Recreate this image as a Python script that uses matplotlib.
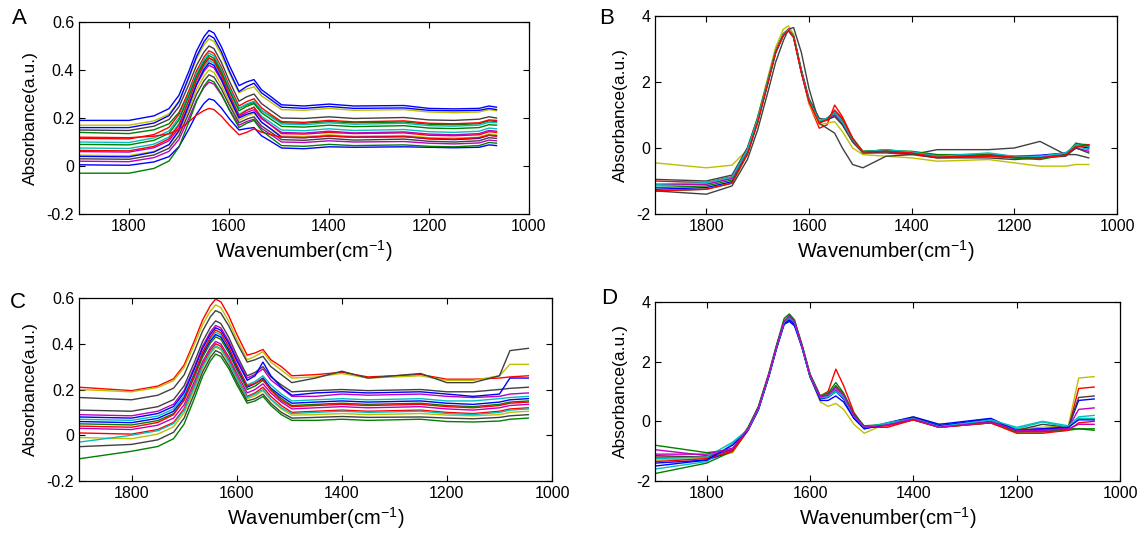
import matplotlib
matplotlib.use("Agg")
import matplotlib.pyplot as plt

plt.rcParams["font.family"] = ["Liberation Sans", "DejaVu Sans"]
plt.rcParams["mathtext.fontset"] = "custom"
plt.rcParams["mathtext.rm"] = "Liberation Sans"

# MATLAB (pre-2014) line colour order
b, g, r, c, m, y, k = ("#0000ff", "#008000", "#ff0000", "#00bfbf",
                       "#bf00bf", "#bfbf00", "#404040")

# ---- panel A ----
wn_a = [1900, 1800, 1750, 1720, 1700, 1680, 1665, 1650, 1640, 1630, 1615, 1600, 1580, 1565,
        1550, 1535, 1515, 1495, 1450, 1400, 1350, 1250, 1200, 1150, 1100, 1080, 1065]
abs_a = [
    [.19, .19, .209, .239, .295, .396, .479, .539, .565, .554, .496, .422, .335, .35, .36, .318, .287, .255, .25, .258, .25, .252, .24, .238, .24, .25, .245],
    [.17, .17, .188, .217, .271, .368, .447, .505, .53, .519, .463, .391, .305, .32, .33, .292, .264, .235, .232, .24, .232, .235, .225, .222, .225, .235, .23],
    [.16, .16, .179, .21, .268, .372, .456, .518, .545, .533, .475, .399, .31, .331, .345, .305, .275, .245, .24, .248, .24, .242, .232, .23, .232, .24, .235],
    [.15, .148, .166, .194, .247, .342, .419, .475, .50, .489, .431, .357, .27, .288, .30, .26, .23, .20, .198, .205, .198, .202, .192, .19, .195, .205, .20],
    [.14, .135, .151, .176, .223, .308, .378, .428, .45, .44, .387, .32, .24, .255, .265, .231, .206, .18, .178, .185, .18, .183, .174, .172, .176, .188, .185],
    [.115, .113, .131, .161, .216, .315, .396, .454, .48, .469, .411, .337, .25, .268, .28, .242, .213, .185, .182, .19, .184, .188, .178, .176, .18, .192, .19],
    [.10, .098, .117, .146, .202, .303, .384, .444, .47, .459, .401, .327, .24, .258, .27, .232, .203, .175, .172, .18, .174, .178, .168, .166, .17, .182, .18],
    [.09, .088, .107, .136, .192, .293, .374, .434, .46, .449, .391, .317, .23, .248, .26, .222, .193, .165, .162, .17, .164, .168, .158, .156, .16, .172, .17],
    [.075, .073, .091, .121, .176, .275, .356, .414, .44, .429, .373, .301, .215, .233, .245, .207, .179, .15, .147, .155, .148, .152, .143, .14, .145, .158, .155],
    [.065, .063, .082, .113, .171, .276, .361, .423, .45, .438, .378, .301, .21, .231, .245, .201, .168, .135, .133, .14, .135, .138, .128, .126, .13, .143, .14],
    [.06, .058, .076, .105, .159, .257, .337, .395, .42, .409, .356, .287, .205, .223, .235, .197, .169, .14, .137, .145, .138, .142, .133, .13, .135, .148, .145],
    [.045, .043, .061, .089, .143, .239, .318, .375, .40, .39, .337, .27, .19, .208, .22, .182, .154, .125, .122, .13, .124, .127, .118, .116, .12, .133, .13],
    [.04, .038, .058, .089, .148, .254, .340, .403, .43, .419, .361, .287, .2, .215, .225, .183, .152, .12, .118, .125, .12, .123, .113, .11, .115, .128, .125],
    [.03, .028, .046, .074, .127, .222, .299, .355, .38, .37, .32, .256, .18, .195, .205, .167, .139, .11, .107, .115, .108, .112, .103, .10, .105, .118, .115],
    [.02, .018, .035, .061, .111, .201, .274, .327, .35, .341, .296, .238, .17, .185, .195, .157, .129, .10, .098, .105, .10, .102, .095, .092, .096, .108, .105],
    [.005, .003, .017, .039, .081, .155, .216, .261, .28, .274, .241, .199, .15, .156, .16, .126, .101, .075, .072, .08, .078, .08, .078, .076, .078, .088, .085],
    [.12, .118, .124, .134, .152, .185, .212, .231, .24, .235, .207, .172, .13, .14, .155, .141, .13, .12, .118, .125, .12, .122, .115, .112, .118, .128, .125],
    [-.03, -.03, -.01, .021, .079, .185, .27, .333, .36, .35, .30, .236, .16, .178, .19, .148, .116, .085, .082, .09, .085, .088, .082, .08, .085, .098, .095],
]
colors_a = [b, y, b, k, g, r, c, g, c, r, m, y, b, k, m, b, r, g]

# ---- panel B ----
wn_b = [1900, 1800, 1750, 1720, 1700, 1680, 1665, 1650, 1640, 1630, 1615, 1600, 1580, 1565,
        1550, 1535, 1515, 1495, 1450, 1400, 1350, 1250, 1200, 1150, 1100, 1080, 1055]
abs_b = [
    [-1.25, -1.2, -1.02, -0.16, 0.8, 1.98, 2.89, 3.41, 3.55, 3.35, 2.3, 1.4, 0.78, 0.85, 1.0, 0.72, 0.2, -0.12, -0.05, -0.15, -0.25, -0.2, -0.25, -0.22, -0.15, 0.05, 0.0],
    [-1.2, -1.15, -0.97, -0.11, 0.85, 2.03, 2.94, 3.46, 3.6, 3.4, 2.35, 1.45, 0.82, 0.9, 1.05, 0.78, 0.25, -0.1, -0.1, -0.12, -0.28, -0.25, -0.3, -0.3, -0.2, 0.12, 0.1],
    [-1.0, -1.05, -0.87, -0.03, 0.9, 2.07, 2.95, 3.46, 3.6, 3.38, 2.3, 1.35, 0.6, 0.7, 1.3, 0.95, 0.3, -0.15, -0.15, -0.2, -0.3, -0.25, -0.28, -0.3, -0.2, 0.0, 0.1],
    [-1.15, -1.1, -0.92, -0.07, 0.87, 2.04, 2.92, 3.44, 3.58, 3.36, 2.32, 1.42, 0.8, 0.88, 1.02, 0.75, 0.22, -0.12, -0.08, -0.15, -0.22, -0.18, -0.3, -0.25, -0.18, 0.05, -0.05],
    [-1.1, -1.1, -0.92, -0.07, 0.86, 2.03, 2.92, 3.43, 3.57, 3.37, 2.33, 1.43, 0.8, 0.87, 1.0, 0.73, 0.2, -0.13, -0.1, -0.13, -0.25, -0.2, -0.27, -0.28, -0.2, 0.0, -0.1],
    [-0.45, -0.6, -0.52, -0.05, 0.95, 2.15, 3.05, 3.6, 3.7, 3.45, 2.35, 1.35, 0.7, 0.75, 0.8, 0.5, 0.0, -0.2, -0.25, -0.3, -0.4, -0.35, -0.45, -0.55, -0.55, -0.5, -0.5],
    [-1.3, -1.4, -1.15, -0.35, 0.55, 1.7, 2.6, 3.25, 3.6, 3.65, 2.9, 1.8, 0.75, 0.6, 0.45, 0.0, -0.5, -0.6, -0.25, -0.2, -0.05, -0.05, 0.0, 0.2, -0.2, -0.2, -0.3],
    [-0.95, -1.0, -0.82, 0.01, 0.92, 2.07, 2.94, 3.44, 3.58, 3.4, 2.38, 1.5, 0.9, 0.85, 0.95, 0.7, 0.18, -0.15, -0.12, -0.18, -0.3, -0.3, -0.35, -0.3, -0.25, 0.0, -0.15],
    [-1.3, -1.25, -1.07, -0.19, 0.77, 1.97, 2.88, 3.41, 3.55, 3.36, 2.32, 1.42, 0.8, 0.9, 1.1, 0.85, 0.3, -0.1, -0.08, -0.1, -0.2, -0.2, -0.3, -0.35, -0.2, 0.15, 0.05],
    [-1.1, -1.05, -0.88, -0.05, 0.88, 2.05, 2.93, 3.45, 3.58, 3.38, 2.34, 1.44, 0.82, 0.9, 1.08, 0.8, 0.25, -0.12, -0.05, -0.12, -0.25, -0.15, -0.25, -0.25, -0.15, 0.1, 0.05],
    [-1.3, -1.25, -1.06, -0.18, 0.78, 1.98, 2.9, 3.42, 3.56, 3.36, 2.3, 1.4, 0.75, 0.85, 1.15, 0.9, 0.28, -0.12, -0.1, -0.15, -0.28, -0.22, -0.28, -0.3, -0.22, 0.05, 0.08],
]
colors_b = [b, g, r, c, m, y, k, k, g, c, r]

# ---- panel C ----
wn_c = [1900, 1800, 1750, 1720, 1700, 1680, 1665, 1650, 1640, 1630, 1615, 1600, 1580, 1565,
        1550, 1535, 1515, 1495, 1450, 1400, 1350, 1250, 1200, 1150, 1100, 1080, 1045]
abs_c = [
    [.21, .195, .215, .247, .307, .415, .503, .567, .595, .583, .522, .443, .35, .36, .375, .33, .3, .26, .265, .275, .255, .265, .245, .245, .25, .255, .26],
    [.2, .19, .209, .239, .296, .399, .483, .543, .57, .558, .498, .421, .33, .345, .365, .32, .285, .25, .255, .27, .25, .26, .24, .24, .26, .31, .31],
    [.165, .155, .175, .206, .264, .37, .455, .518, .545, .534, .478, .406, .32, .33, .345, .3, .265, .23, .25, .28, .25, .27, .23, .23, .26, .37, .38],
    [.11, .105, .125, .156, .216, .322, .409, .472, .5, .488, .428, .351, .26, .275, .3, .255, .22, .19, .195, .2, .195, .2, .19, .19, .2, .205, .21],
    [.09, .085, .105, .136, .196, .302, .389, .452, .48, .469, .411, .337, .25, .266, .29, .242, .206, .17, .17, .18, .175, .18, .17, .165, .17, .18, .185],
    [.08, .075, .095, .126, .186, .292, .379, .442, .47, .459, .401, .327, .24, .26, .32, .26, .21, .175, .185, .19, .185, .19, .18, .17, .18, .25, .25],
    [.07, .065, .084, .115, .173, .277, .361, .423, .45, .439, .381, .307, .22, .235, .26, .22, .18, .15, .155, .16, .155, .16, .15, .15, .16, .165, .17],
    [.06, .055, .074, .105, .163, .267, .351, .413, .44, .429, .371, .297, .21, .226, .25, .206, .17, .14, .145, .15, .145, .15, .14, .135, .145, .155, .16],
    [.05, .045, .064, .095, .153, .257, .341, .403, .43, .419, .361, .287, .2, .215, .24, .2, .16, .13, .135, .14, .135, .14, .13, .125, .135, .145, .15],
    [.04, .035, .056, .09, .154, .269, .362, .43, .46, .448, .387, .308, .215, .227, .245, .197, .152, .125, .13, .135, .13, .135, .125, .12, .13, .14, .145],
    [.03, .025, .044, .075, .133, .237, .321, .383, .41, .399, .343, .271, .185, .2, .225, .185, .145, .115, .12, .125, .12, .125, .115, .11, .12, .13, .135],
    [.01, .005, .025, .056, .116, .222, .309, .372, .4, .389, .331, .257, .17, .185, .21, .17, .13, .1, .105, .11, .105, .11, .1, .095, .105, .115, .12],
    [-.01, -.015, .005, .037, .097, .205, .293, .357, .385, .374, .318, .246, .16, .172, .195, .155, .115, .088, .09, .095, .09, .095, .088, .085, .09, .1, .105],
    [-.03, 0.0, .02, .051, .109, .215, .3, .363, .39, .379, .323, .251, .165, .18, .2, .158, .12, .095, .1, .105, .1, .105, .095, .09, .1, .11, .115],
    [-.05, -.04, -.02, .013, .075, .186, .276, .341, .37, .359, .304, .234, .15, .16, .18, .14, .1, .075, .078, .082, .078, .08, .075, .072, .078, .085, .09],
    [-.103, -.07, -.049, -.015, .049, .164, .257, .325, .355, .344, .291, .222, .14, .15, .17, .13, .09, .065, .065, .07, .065, .07, .06, .058, .062, .07, .075],
]
colors_c = [r, y, k, k, m, b, c, b, g, r, m, r, y, c, k, g]

# ---- panel D ----
wn_d = [1900, 1800, 1750, 1720, 1700, 1680, 1665, 1650, 1640, 1630, 1615, 1600, 1580, 1565,
        1550, 1535, 1515, 1495, 1450, 1400, 1350, 1250, 1200, 1150, 1100, 1080, 1050]
abs_d = [
    [-1.3, -1.25, -1.05, -0.3, 0.4, 1.5, 2.45, 3.3, 3.45, 3.3, 2.45, 1.5, 0.65, 0.5, 0.6, 0.4, -0.1, -0.4, -0.05, 0.15, -0.1, 0.0, -0.25, -0.2, -0.15, 1.45, 1.5],
    [-1.2, -1.2, -0.95, -0.25, 0.45, 1.55, 2.5, 3.35, 3.5, 3.32, 2.5, 1.55, 0.85, 1.0, 1.75, 1.2, 0.3, -0.2, -0.2, 0.05, -0.2, -0.05, -0.35, -0.35, -0.25, 1.1, 1.15],
    [-0.8, -1.05, -0.95, -0.2, 0.5, 1.6, 2.55, 3.45, 3.6, 3.4, 2.55, 1.6, 0.85, 0.95, 1.3, 0.95, 0.25, -0.15, -0.1, 0.1, -0.15, -0.05, -0.35, -0.3, -0.25, -0.25, -0.3],
    [-1.4, -1.3, -1.0, -0.3, 0.4, 1.5, 2.45, 3.25, 3.35, 3.2, 2.45, 1.5, 0.75, 0.8, 1.0, 0.75, 0.1, -0.25, -0.05, 0.15, -0.1, 0.1, -0.3, -0.25, -0.2, 0.7, 0.75],
    [-1.15, -1.2, -0.95, -0.25, 0.45, 1.55, 2.5, 3.35, 3.5, 3.35, 2.5, 1.55, 0.8, 0.85, 1.1, 0.85, 0.2, -0.2, -0.1, 0.1, -0.15, 0.0, -0.3, -0.1, -0.2, 0.8, 0.85],
    [-0.95, -1.15, -0.95, -0.25, 0.43, 1.53, 2.48, 3.33, 3.48, 3.32, 2.48, 1.52, 0.8, 0.85, 1.05, 0.8, 0.18, -0.22, -0.08, 0.08, -0.18, -0.02, -0.32, -0.28, -0.22, 0.4, 0.45],
    [-1.6, -1.35, -0.75, -0.25, 0.4, 1.5, 2.45, 3.3, 3.45, 3.3, 2.45, 1.5, 0.78, 0.82, 1.0, 0.8, 0.15, -0.2, -0.05, 0.1, -0.15, 0.05, -0.25, -0.02, -0.2, 0.1, 0.1],
    [-1.75, -1.4, -1.0, -0.28, 0.42, 1.52, 2.47, 3.35, 3.55, 3.35, 2.5, 1.55, 0.8, 0.9, 1.2, 0.9, 0.2, -0.18, -0.1, 0.05, -0.2, -0.05, -0.35, -0.35, -0.3, -0.25, -0.25],
    [-1.35, -1.25, -1.0, -0.3, 0.4, 1.5, 2.45, 3.33, 3.5, 3.3, 2.48, 1.52, 0.8, 0.88, 1.15, 0.88, 0.2, -0.2, -0.15, 0.05, -0.2, -0.05, -0.4, -0.4, -0.3, -0.05, 0.0],
    [-1.5, -1.3, -0.8, -0.3, 0.38, 1.48, 2.42, 3.27, 3.4, 3.25, 2.45, 1.5, 0.7, 0.7, 0.85, 0.65, 0.1, -0.25, -0.1, 0.12, -0.15, 0.08, -0.3, -0.25, -0.2, 0.05, 0.05],
    [-1.25, -1.2, -0.7, -0.28, 0.42, 1.52, 2.47, 3.32, 3.5, 3.32, 2.48, 1.52, 0.8, 0.85, 1.1, 0.85, 0.18, -0.2, -0.08, 0.1, -0.18, 0.05, -0.2, 0.0, -0.15, 0.15, 0.2],
    [-1.1, -1.1, -0.9, -0.25, 0.45, 1.55, 2.5, 3.35, 3.52, 3.35, 2.5, 1.55, 0.82, 0.88, 1.15, 0.88, 0.2, -0.2, -0.12, 0.08, -0.2, -0.02, -0.3, -0.3, -0.25, -0.1, -0.1],
]
colors_d = [y, r, g, b, k, m, c, g, r, b, c, m]

x_ticks = [1800, 1600, 1400, 1200, 1000]
yticks_small = [-0.2, 0, 0.2, 0.4, 0.6]
yticks_big = [-2, 0, 2, 4]

W, H = 1146, 539
fig = plt.figure(figsize=(W / 100, H / 100), dpi=100)


def px_axes(left, top, right, bottom):
    return fig.add_axes([left / W, 1 - bottom / H, (right - left) / W, (bottom - top) / H])


panels = [
    ("A", (79, 22, 529, 214), (19, 18), wn_a, abs_a, colors_a, yticks_small, ["-0.2", "0", "0.2", "0.4", "0.6"]),
    ("B", (655, 16, 1117, 214), (607, 19), wn_b, abs_b, colors_b, yticks_big, ["-2", "0", "2", "4"]),
    ("C", (79, 298, 552, 481), (18, 302), wn_c, abs_c, colors_c, yticks_small, ["-0.2", "0", "0.2", "0.4", "0.6"]),
    ("D", (655, 302, 1120, 481), (609, 298), wn_d, abs_d, colors_d, yticks_big, ["-2", "0", "2", "4"]),
]

for letter, box, lpos, wn, rows, cols, yt, ytl in panels:
    ax = px_axes(*box)
    for row, col in zip(rows, cols):
        ax.plot(wn, row, color=col, lw=1.0)
    ax.set_xlim(1900, 1000)
    ax.set_ylim(yt[0], yt[-1])
    ax.set_xticks(x_ticks)
    ax.set_yticks(yt)
    ax.set_yticklabels(ytl)
    ax.tick_params(direction="in", top=True, right=True, length=4, width=0.8, labelsize=11.5)
    for sp in ax.spines.values():
        sp.set_linewidth(0.9)
    ax.set_xlabel(r"Wavenumber(cm$^{\mathregular{-1}}$)", fontsize=14.5, labelpad=3)
    ax.set_ylabel("Absorbance(a.u.)", fontsize=12.5, labelpad=6)
    fig.text(lpos[0] / W, 1 - lpos[1] / H, letter, fontsize=16, ha="center", va="center")

fig.savefig("out.png", dpi=100)
